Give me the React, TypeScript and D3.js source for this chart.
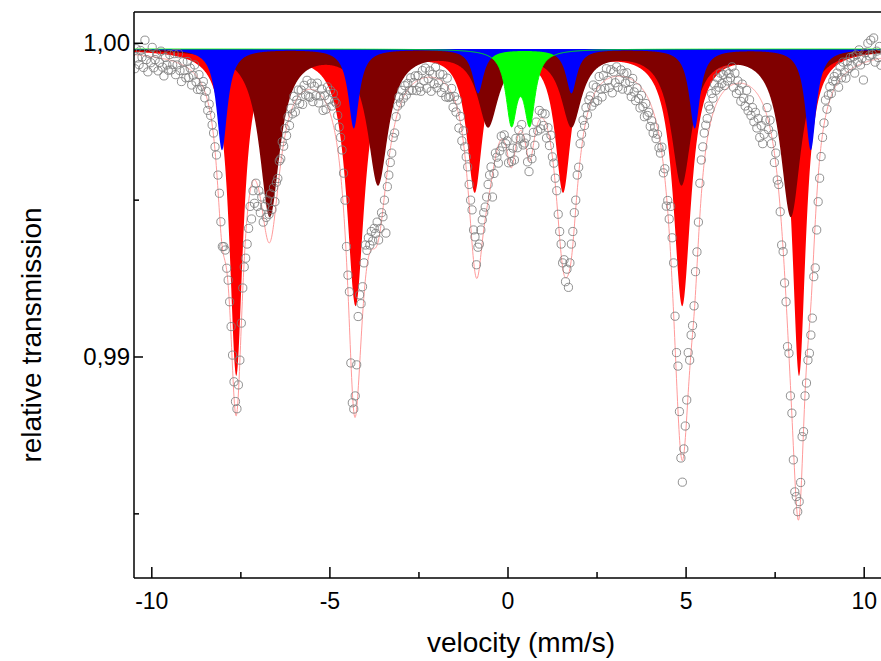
import React from "react";
import * as d3 from "d3";

const W = 881;
const H = 661;

// fit baseline (relative transmission far from the lines)
const baseline = 0.99982;

// subspectra: line positions (mm/s), depths (transmission units), FWHM (mm/s)
const redPos = [-7.63, -4.28, -0.935, 1.545, 4.89, 8.17];
const redDepth = [0.01034, 0.0081, 0.00443, 0.00443, 0.0081, 0.01034];
const redWidth = [0.46, 0.6, 0.54, 0.54, 0.6, 0.46];

const maroonPos = [-6.69, -3.65, -0.56, 1.78, 4.87, 7.94];
const maroonDepth = [0.00529, 0.00424, 0.00236, 0.00236, 0.00424, 0.00529];
const maroonWidth = [0.7, 0.7, 0.7, 0.7, 0.7, 0.7];

const bluePos = [-8.03, -4.33, -0.84, 1.78, 5.24, 8.5];
const blueDepth = [0.00322, 0.00252, 0.0014, 0.0014, 0.00252, 0.00322];
const blueWidth = [0.37, 0.37, 0.37, 0.37, 0.37, 0.37];

const greenPos = [0.096, 0.61];
const greenDepth = [0.00223, 0.00223];
const greenWidth = [0.37, 0.37];

// measured spectrum: channel velocities (mm/s) and (1 - transmission) x 1e5
const velocityStart = -10.48;
const velocityStep = 0.041;
const absorptionE5 = [
  81, 17, 47, 68, 23, 44, 77, -10, 52, 91, 33, 62, 13, 78, 52, 33, 88, 61, 25, 76, 104, 45, 69, 86,
  36, 85, 68, 33, 100, 69, 33, 87, 122, 59, 87, 110, 58, 109, 79, 133, 102, 69, 123, 147, 100, 148, 137, 122,
  174, 153, 214, 194, 230, 260, 286, 330, 356, 420, 478, 569, 648, 648, 659, 717, 755, 824, 903, 994, 1079, 1142, 1165, 1089,
  1010, 892, 780, 713, 685, 640, 590, 520, 560, 470, 510, 446, 520, 470, 540, 490, 570, 520, 555, 500, 545, 480, 530, 460,
  505, 443, 431, 375, 368, 314, 328, 272, 294, 234, 262, 207, 225, 169, 219, 181, 149, 192, 149, 195, 134, 165, 118, 169,
  172, 127, 186, 137, 167, 127, 190, 168, 146, 214, 167, 210, 139, 180, 150, 200, 160, 185, 191, 230, 267, 300, 340, 414,
  500, 648, 739, 792, 1019, 1146, 1166, 1124, 1025, 871, 802, 830, 776, 700, 643, 660, 620, 643, 600, 630, 590, 606, 570, 627,
  590, 540, 553, 500, 605, 457, 420, 380, 350, 300, 286, 234, 200, 171, 190, 150, 175, 135, 165, 128, 150, 110, 150, 125,
  104, 151, 103, 140, 153, 87, 120, 79, 143, 113, 88, 153, 99, 129, 76, 142, 126, 98, 157, 100, 141, 171, 111, 173,
  170, 144, 204, 170, 219, 181, 270, 233, 311, 279, 330, 362, 394, 450, 500, 531, 595, 617, 706, 650, 640, 595, 563, 540,
  522, 490, 450, 420, 394, 490, 415, 350, 363, 382, 343, 296, 330, 292, 320, 311, 381, 351, 377, 334, 372, 303, 333, 276,
  303, 259, 324, 318, 302, 378, 409, 348, 368, 284, 325, 251, 279, 214, 273, 223, 262, 225, 302, 269, 326, 293, 362, 382,
  430, 470, 545, 600, 640, 700, 690, 760, 720, 778, 700, 640, 600, 540, 500, 420, 395, 320, 290, 245, 262, 205, 228, 180,
  168, 200, 133, 188, 140, 183, 106, 146, 171, 102, 144, 81, 118, 141, 84, 158, 91, 126, 75, 140, 115, 85, 146, 96,
  127, 94, 150, 122, 170, 112, 155, 183, 142, 176, 206, 166, 202, 234, 192, 230, 220, 265, 247, 286, 267, 304, 290, 333,
  350, 331, 413, 400, 519, 501, 560, 520, 620, 700, 870, 986, 1029, 1174, 1322, 1399, 1293, 1220, 1137, 986, 1010, 930, 900, 837,
  728, 665, 570, 446, 372, 330, 286, 261, 240, 200, 210, 160, 175, 130, 150, 110, 140, 95, 128, 100, 135, 88, 120, 97,
  110, 75, 140, 95, 160, 120, 150, 185, 130, 175, 200, 150, 215, 180, 230, 205, 250, 220, 270, 240, 300, 262, 320, 290,
  245, 205, 275, 245, 320, 290, 380, 350, 436, 450, 537, 643, 664, 764, 824, 967, 988, 1124, 1179, 1328, 1430, 1445, 1493, 1461,
  1400, 1254, 1238, 1124, 1083, 1010, 988, 930, 876, 744, 716, 595, 505, 430, 361, 300, 254, 181, 210, 165, 138, 160, 120, 106,
  120, 95, 140, 75, 110, 60, 92, 111, 59, 80, 45, 72, 43, 95, 37, 60, 21, 69, 48, 117, 30, 55, 0, 40,
  -10, 35, -17, 60, 25, 45, 10, 70,
];

const xMajorTicks = [-10, -5, 0, 5, 10];
const xMinorTicks = [-7.5, -2.5, 2.5, 7.5];
const yMajorTicks = [1.0, 0.99];
const yMajorLabels = ["1,00", "0,99"];
const yMinorTicks = [0.995, 0.985];

type Comp = { pos: number[]; depth: number[]; width: number[]; color: string };

// drawing order: red, maroon, green, blue (blue on top)
const components: Comp[] = [
  { pos: redPos, depth: redDepth, width: redWidth, color: "#ff0000" },
  { pos: maroonPos, depth: maroonDepth, width: maroonWidth, color: "#800000" },
  { pos: greenPos, depth: greenDepth, width: greenWidth, color: "#00ff00" },
  { pos: bluePos, depth: blueDepth, width: blueWidth, color: "#0000ff" },
];

function absorption(c: Comp, v: number) {
  let s = 0;
  for (let i = 0; i < c.pos.length; i++) {
    const hw = c.width[i] / 2;
    const d = (v - c.pos[i]) / hw;
    s += c.depth[i] / (1 + d * d);
  }
  return s;
}

export default function App() {
  const left = 134;
  const right = 882;
  const top = 12;
  const bottom = 578;
  const x = d3.scaleLinear().domain([-10.5, 10.5]).range([left, right]);
  const y = d3.scaleLinear().domain([0.99, 1.0]).range([357, 43.3]);

  const grid = d3.range(-10.6, 10.6001, 0.01);

  const areas = components.map((c) =>
    d3
      .area<number>()
      .x((v) => x(v))
      .y0(y(baseline))
      .y1((v) => y(baseline - absorption(c, v)))(grid)
  );
  const greenLine = d3
    .line<number>()
    .x((v) => x(v))
    .y((v) => y(baseline - absorption(components[2], v)))(grid);

  const envelope = d3
    .line<number>()
    .x((v) => x(v))
    .y((v) => y(baseline - d3.sum(components, (c) => absorption(c, v))))(grid);

  const points = absorptionE5.map((a, i) => ({
    v: velocityStart + i * velocityStep,
    t: 1 - a / 1e5,
  }));

  const font = "'Liberation Sans', Arial, sans-serif";

  return (
    <svg
      width={W}
      height={H}
      style={{ position: "absolute", left: 0, top: 0, background: "#fff" }}
    >
      <defs>
        <clipPath id="plot">
          <rect x={left} y={top} width={right - left} height={bottom - top} />
        </clipPath>
      </defs>
      <g clipPath="url(#plot)">
        {areas.map((a, i) => (
          <path key={i} d={a ?? ""} fill={components[i].color} stroke="none" />
        ))}
        <path d={greenLine ?? ""} fill="none" stroke="#00ff00" strokeWidth={1} />
        <path d={envelope ?? ""} fill="none" stroke="#ff9a9a" strokeWidth={1} />
        {points.map((p, i) => (
          <circle
            key={i}
            cx={x(p.v)}
            cy={y(p.t)}
            r={4.1}
            fill="none"
            stroke="#7d7d7d"
            strokeWidth={0.85}
          />
        ))}
      </g>
      <g stroke="#000" strokeWidth={1.5} fill="none">
        <line x1={left} y1={top} x2={left} y2={bottom} />
        <line x1={left} y1={top} x2={W + 2} y2={top} />
        <line x1={left} y1={bottom} x2={W + 2} y2={bottom} />
        {xMajorTicks.map((t) => (
          <line key={t} x1={x(t)} x2={x(t)} y1={bottom} y2={bottom - 11} />
        ))}
        {xMinorTicks.map((t) => (
          <line key={t} x1={x(t)} x2={x(t)} y1={bottom} y2={bottom - 6} />
        ))}
        {yMajorTicks.map((t) => (
          <line key={t} x1={left} x2={left + 9} y1={y(t)} y2={y(t)} />
        ))}
        {yMinorTicks.map((t) => (
          <line key={t} x1={left} x2={left + 5} y1={y(t)} y2={y(t)} />
        ))}
      </g>
      <g fontFamily={font} fill="#000">
        {xMajorTicks.map((t) => (
          <text key={t} x={x(t)} y={609} fontSize={23} textAnchor="middle">
            {t < 0 ? "-" + Math.abs(t) : String(t)}
          </text>
        ))}
        {yMajorTicks.map((t, i) => (
          <text key={t} x={130} y={y(t) + 8} fontSize={24} textAnchor="end">
            {yMajorLabels[i]}
          </text>
        ))}
        <text x={521} y={652} fontSize={28} textAnchor="middle">
          velocity (mm/s)
        </text>
        <text transform="translate(41, 335) rotate(-90)" fontSize={28} textAnchor="middle">
          relative transmission
        </text>
      </g>
    </svg>
  );
}
